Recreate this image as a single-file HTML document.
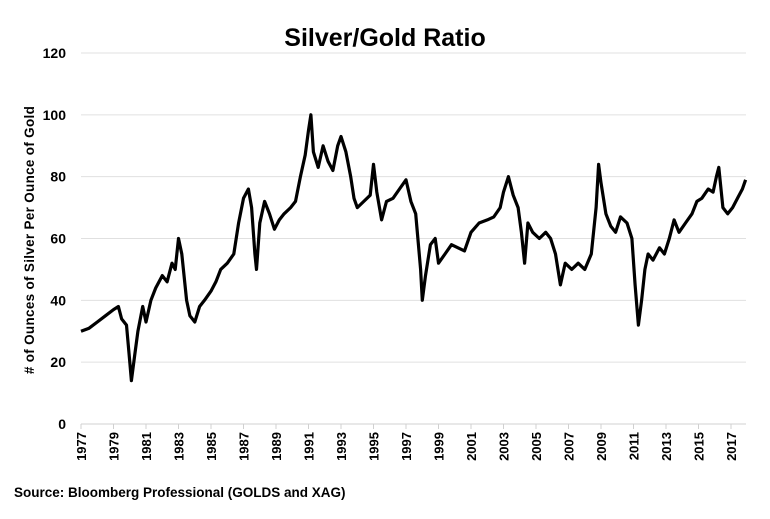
<!DOCTYPE html>
<html><head><meta charset="utf-8"><style>
body{margin:0;background:#fff;width:770px;height:514px;overflow:hidden;font-family:"Liberation Sans",Arial,sans-serif}
</style></head><body>
<svg id="chart" width="770" height="514" xmlns="http://www.w3.org/2000/svg">
<text x="385" y="46" text-anchor="middle" font-size="25" font-weight="bold" font-family="Liberation Sans, sans-serif">Silver/Gold Ratio</text>
<text transform="translate(34,240) rotate(-90)" text-anchor="middle" font-size="13.5" letter-spacing="0.3" font-weight="bold" font-family="Liberation Sans, sans-serif"># of Ounces of Silver Per Ounce of Gold</text>
<text x="14" y="497" font-size="13.5" font-weight="bold" font-family="Liberation Sans, sans-serif">Source: Bloomberg Professional  (GOLDS and XAG)</text>
<g id="grid"></g><g id="axes"></g><g id="series"></g>
</svg>
<script>
const yTicks=[0,20,40,60,80,100,120];
const yearLabels=[1977,1979,1981,1983,1985,1987,1989,1991,1993,1995,1997,1999,2001,2003,2005,2007,2009,2011,2013,2015,2017];
const dates=[1977.0,1977.5,1978,1978.5,1979,1979.3,1979.5,1979.8,1980.0,1980.1,1980.3,1980.5,1980.8,1981.0,1981.3,1981.6,1982.0,1982.3,1982.6,1982.8,1983.0,1983.2,1983.5,1983.7,1984.0,1984.3,1984.6,1985.0,1985.3,1985.6,1986.0,1986.4,1986.7,1987.0,1987.3,1987.5,1987.7,1987.8,1988.0,1988.3,1988.6,1988.9,1989.2,1989.5,1989.9,1990.2,1990.5,1990.8,1991.0,1991.15,1991.3,1991.6,1991.9,1992.2,1992.5,1992.8,1993.0,1993.3,1993.6,1993.8,1994.0,1994.4,1994.8,1995.0,1995.2,1995.5,1995.8,1996.2,1996.6,1997.0,1997.3,1997.6,1997.9,1998.0,1998.2,1998.5,1998.8,1999.0,1999.4,1999.8,2000.2,2000.6,2001.0,2001.5,2002.0,2002.4,2002.8,2003.0,2003.3,2003.6,2003.9,2004.1,2004.3,2004.5,2004.8,2005.2,2005.6,2005.9,2006.2,2006.5,2006.8,2007.2,2007.6,2008.0,2008.4,2008.7,2008.85,2009.0,2009.3,2009.6,2009.9,2010.2,2010.6,2010.9,2011.1,2011.3,2011.5,2011.7,2011.9,2012.2,2012.6,2012.9,2013.2,2013.5,2013.8,2014.2,2014.6,2014.9,2015.2,2015.6,2015.9,2016.1,2016.25,2016.5,2016.8,2017.1,2017.4,2017.7,2017.9];
const ratios=[30,31,33,35,37,38,34,32,20,14,22,30,38,33,40,44,48,46,52,50,60,55,40,35,33,38,40,43,46,50,52,55,65,73,76,70,55,50,65,72,68,63,66,68,70,72,80,87,95,100,88,83,90,85,82,90,93,88,80,73,70,72,74,84,75,66,72,73,76,79,72,68,50,40,48,58,60,52,55,58,57,56,62,65,66,67,70,75,80,74,70,62,52,65,62,60,62,60,55,45,52,50,52,50,55,70,84,78,68,64,62,67,65,60,45,32,40,50,55,53,57,55,60,66,62,65,68,72,73,76,75,80,83,70,68,70,73,76,79];
const X0=81,X1=746,Y0=424,Y120=53;
const xs=t=>X0+(t-1977)*16.25;
const ys=v=>Y0-(v/120)*(Y0-Y120);
const NS="http://www.w3.org/2000/svg";
const grid=document.getElementById('grid'),axes=document.getElementById('axes'),ser=document.getElementById('series');
yTicks.forEach(v=>{
 const l=document.createElementNS(NS,'line');
 
 
 l.setAttribute('x1',X0);l.setAttribute('x2',X1);l.setAttribute('y1',ys(v));l.setAttribute('y2',ys(v));
 l.setAttribute('stroke',v===0?'#d0d0d0':'#e0e0e0');l.setAttribute('stroke-width','1');
 grid.appendChild(l);
 const t=document.createElementNS(NS,'text');
 
 
 t.setAttribute('x',66);t.setAttribute('y',ys(v)+5);t.setAttribute('text-anchor','end');
 t.setAttribute('font-size','14');t.setAttribute('font-weight','bold');t.setAttribute('font-family','Liberation Sans, sans-serif');
 t.textContent=v;axes.appendChild(t);
});
yearLabels.forEach(y=>{
 const x=xs(y);
 const k=document.createElementNS(NS,'line');
 
 
 k.setAttribute('x1',x);k.setAttribute('x2',x);k.setAttribute('y1',Y0);k.setAttribute('y2',Y0+5);
 k.setAttribute('stroke','#d0d0d0');axes.appendChild(k);
 const t=document.createElementNS(NS,'text');
 
 
 t.setAttribute('transform','translate('+(x+5)+','+(Y0+8)+') rotate(-90)');
 t.setAttribute('text-anchor','end');
 t.setAttribute('font-size','13');t.setAttribute('font-weight','bold');t.setAttribute('font-family','Liberation Sans, sans-serif');
 t.textContent=y;axes.appendChild(t);
});
const p=document.createElementNS(NS,'path');


p.setAttribute('d',dates.map((d,i)=>(i?'L':'M')+xs(d).toFixed(1)+','+ys(ratios[i]).toFixed(1)).join(''));
p.setAttribute('fill','none');p.setAttribute('stroke','#000');p.setAttribute('stroke-width','3.2');p.setAttribute('stroke-linejoin','round');
ser.appendChild(p);
</script>
</body></html>
